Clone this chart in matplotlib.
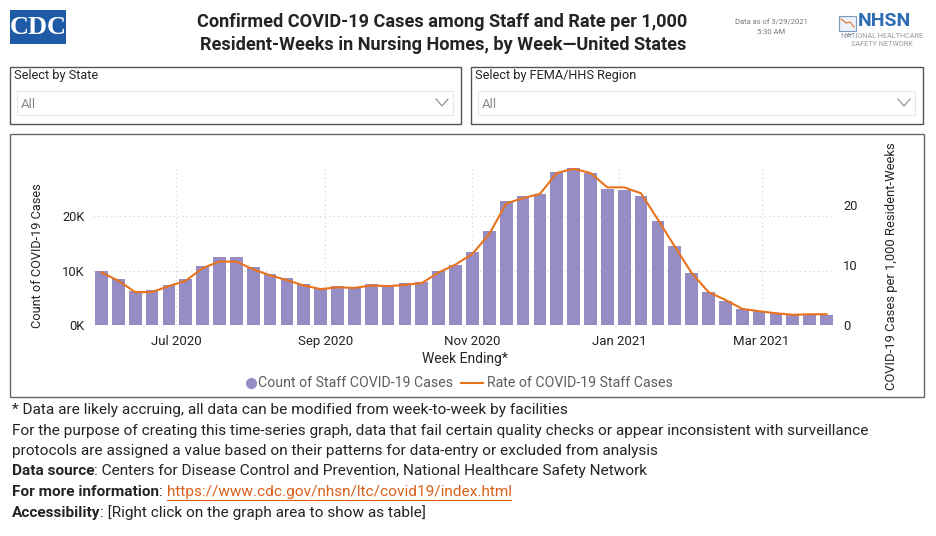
import pandas as pd
import matplotlib.pyplot as plt
from matplotlib.patches import Rectangle
from matplotlib.lines import Line2D
from matplotlib.ticker import FuncFormatter

plt.rcParams['font.family'] = ['Roboto', 'DejaVu Sans']

W, H = 936, 536

# weekly staff cases (count) and rate per 1,000 resident-weeks, week ending Sunday
week_start = "2020-05-31"
n_weeks = 44
staff_cases = [10000, 8500, 6300, 6500, 7400, 8500, 10900, 12500, 12500, 10700,
               9400, 8700, 7600, 6900, 7200, 7000, 7500, 7400, 7700, 8000,
               10000, 11100, 13500, 17300, 22800, 23800, 24200, 28100, 28900, 28000,
               25100, 24800, 23800, 19100, 14500, 9600, 6000, 4400, 3000, 2600,
               2200, 1900, 1900, 1800]
staff_rate = [8.8, 7.4, 5.5, 5.5, 6.5, 7.4, 9.5, 10.6, 10.6, 9.3,
              8.3, 7.5, 6.6, 6.0, 6.3, 6.2, 6.6, 6.5, 6.7, 7.0,
              8.8, 10.1, 11.9, 15.2, 20.3, 21.2, 21.9, 25.4, 26.1, 25.4,
              23.0, 23.0, 22.0, 17.6, 13.1, 8.7, 5.5, 4.2, 2.7, 2.3,
              1.96, 1.7, 1.8, 1.8]
month_ticks = ["2020-07-01", "2020-09-01", "2020-11-01", "2021-01-01", "2021-03-01"]
month_labels = ["Jul 2020", "Sep 2020", "Nov 2020", "Jan 2021", "Mar 2021"]

weeks = pd.date_range(week_start, periods=n_weeks, freq="7D")
ticks = pd.to_datetime(month_ticks)

purple = "#968DC5"
orange = "#E8731C"
dark = "#252423"
grey = "#605E5C"


def fx(x):
    return x / W


def fy(y):
    return 1 - y / H


fig = plt.figure(figsize=(W / 100, H / 100), dpi=100)

# ---- header ----
fig.patches.append(Rectangle((fx(10), fy(44)), 56 / W, 34 / H, transform=fig.transFigure,
                             facecolor="#1F5AA6", edgecolor="none"))
fig.text(fx(38), fy(28), "CDC", color="white", fontsize=19, fontweight="bold",
         ha="center", va="center", family=["Liberation Serif", "DejaVu Serif"])

fig.text(fx(442), fy(22), "Confirmed COVID-19 Cases among Staff and Rate per 1,000",
         fontsize=13.1, fontweight="bold", ha="center", va="center", color=dark)
fig.text(fx(443), fy(45), "Resident-Weeks in Nursing Homes, by Week\u2014United States",
         fontsize=13.1, fontweight="bold", ha="center", va="center", color=dark)

fig.text(fx(771), fy(22), "Data as of 3/29/2021", fontsize=5.5, ha="center", va="center", color="#777777")
fig.text(fx(771), fy(32), "5:30 AM", fontsize=5.5, ha="center", va="center", color="#777777")

# NHSN logo
fig.patches.append(Rectangle((fx(839), fy(31)), 17 / W, 15 / H, transform=fig.transFigure,
                             facecolor="#EAF1F7", edgecolor="#7A9CC0", lw=0.8))
fig.lines.append(Line2D([fx(841), fx(846), fx(850), fx(854)], [fy(19), fy(23), fy(22), fy(27)],
                        transform=fig.transFigure, color="#E8731C", lw=0.8))
fig.lines.append(Line2D([fx(845), fx(851)], [fy(34), fy(34)], transform=fig.transFigure,
                        color="#7A9CC0", lw=1))
fig.text(fx(858), fy(21), "NHSN", fontsize=14, fontweight="bold", color="#2E6DB4",
         ha="left", va="center")
fig.text(fx(882), fy(37), "NATIONAL HEALTHCARE", fontsize=5.2, color="#999999", ha="center", va="center")
fig.text(fx(882), fy(44), "SAFETY NETWORK", fontsize=5.2, color="#999999", ha="center", va="center")

# ---- slicers ----
for x0, x1, label in [(10, 461, "Select by State"), (471, 923, "Select by FEMA/HHS Region")]:
    fig.patches.append(Rectangle((fx(x0), fy(124)), (x1 - x0) / W, 57 / H, transform=fig.transFigure,
                                 facecolor="white", edgecolor="#555555", lw=1))
    fig.patches.append(Rectangle((fx(x0 + 7), fy(115)), (x1 - x0 - 15) / W, 24 / H,
                                 transform=fig.transFigure, facecolor="white", edgecolor="#E8E8E8", lw=0.8))
    fig.text(fx(x0 + 4), fy(76), label, fontsize=9.2, color=dark, ha="left", va="center")
    fig.text(fx(x0 + 11), fy(104), "All", fontsize=9.5, color="#8A8886", ha="left", va="center")
    cx = x1 - 19
    fig.lines.append(Line2D([fx(cx - 6), fx(cx), fx(cx + 6)], [fy(99), fy(106), fy(99)],
                            transform=fig.transFigure, color="#8A8886", lw=0.8))

# chart frame
fig.patches.append(Rectangle((fx(10), fy(397)), 914 / W, 263 / H, transform=fig.transFigure,
                             facecolor="none", edgecolor="#666666", lw=1))

# ---- chart ----
ax = fig.add_axes([fx(93), fy(325), (835 - 93) / W, (325 - 167) / H])
ax.bar(weeks, staff_cases, width=5.3, color=purple, zorder=2)
ax.set_xlim(weeks[0] - pd.Timedelta(days=3.5), weeks[-1] + pd.Timedelta(days=3.5))
ax.set_ylim(0, 29100)
ax.set_yticks([0, 10000, 20000])
ax.yaxis.set_major_formatter(FuncFormatter(lambda v, p: f"{int(v / 1000)}K"))
ax.set_xticks(ticks)
ax.set_xticklabels(month_labels)
for v in [10000, 20000]:
    ax.axhline(v, color="#D0D0D0", lw=0.8, ls=(0, (1, 3)), zorder=1)
for t in ticks:
    ax.axvline(t, color="#D0D0D0", lw=0.8, ls=(0, (1, 3)), zorder=1)

ax2 = ax.twinx()
ax2.plot(weeks, staff_rate, color=orange, lw=1.5, zorder=3)
ax2.set_ylim(0, 26.4)
ax2.set_yticks([0, 10, 20])

for a in (ax, ax2):
    for s in a.spines.values():
        s.set_visible(False)
    a.tick_params(length=0, labelsize=9.3, labelcolor=dark)
ax.tick_params(axis="y", pad=6)
ax.tick_params(axis="x", pad=7, labelsize=9.5)
ax2.tick_params(axis="y", pad=6)

fig.text(fx(38), fy(256), "Count of COVID-19 Cases", rotation=90, fontsize=9.2,
         color=dark, ha="center", va="center")
fig.text(fx(892), fy(266), "COVID-19 Cases per 1,000 Resident-Weeks", rotation=90, fontsize=9.4,
         color=dark, ha="center", va="center")
fig.text(fx(465), fy(359), "Week Ending*", fontsize=10, color=dark, ha="center", va="center")

# legend, drawn by hand to match spacing
fig.lines.append(Line2D([fx(251)], [fy(383)], transform=fig.transFigure, marker="o", ls="",
                        color=purple, markersize=7))
fig.text(fx(258), fy(383), "Count of Staff COVID-19 Cases", fontsize=10.2, color=grey,
         ha="left", va="center")
fig.lines.append(Line2D([fx(461), fx(483)], [fy(383), fy(383)], transform=fig.transFigure,
                        color=orange, lw=1.5))
fig.text(fx(487), fy(383), "Rate of COVID-19 Staff Cases", fontsize=10.2, color=grey,
         ha="left", va="center")

# ---- footer ----
fs = 11.1
fig.text(fx(12), fy(410), "* Data are likely accruing, all data can be modified from week-to-week by facilities",
         fontsize=fs, color=dark, va="center")
fig.text(fx(12), fy(431), "For the purpose of creating this time-series graph, data that fail certain quality "
         "checks or appear inconsistent with surveillance", fontsize=fs, color=dark, va="center")
fig.text(fx(12), fy(451), "protocols are assigned a value based on their patterns for data-entry or excluded "
         "from analysis", fontsize=fs, color=dark, va="center")

rows = [(471, "Data source", ": Centers for Disease Control and Prevention, National Healthcare Safety Network", None),
        (492, "For more information", ": ", "https://www.cdc.gov/nhsn/ltc/covid19/index.html"),
        (513, "Accessibility", ": [Right click on the graph area to show as table]", None)]
fig.canvas.draw()
renderer = fig.canvas.get_renderer()
for y, bold, rest, link in rows:
    t1 = fig.text(fx(12), fy(y), bold, fontsize=fs, fontweight="bold", color=dark, va="center")
    b1 = t1.get_window_extent(renderer)
    t2 = fig.text(b1.x1 / W, fy(y), rest, fontsize=fs, color=dark, va="center")
    if link:
        b2 = t2.get_window_extent(renderer)
        t3 = fig.text(b2.x1 / W, fy(y), link, fontsize=fs, color="#D9601A", va="center")
        b3 = t3.get_window_extent(renderer)
        fig.lines.append(Line2D([b3.x0 / W, b3.x1 / W], [fy(y + 8), fy(y + 8)],
                                transform=fig.transFigure, color="#D9601A", lw=0.8))

fig.savefig("out.png", dpi=100)
